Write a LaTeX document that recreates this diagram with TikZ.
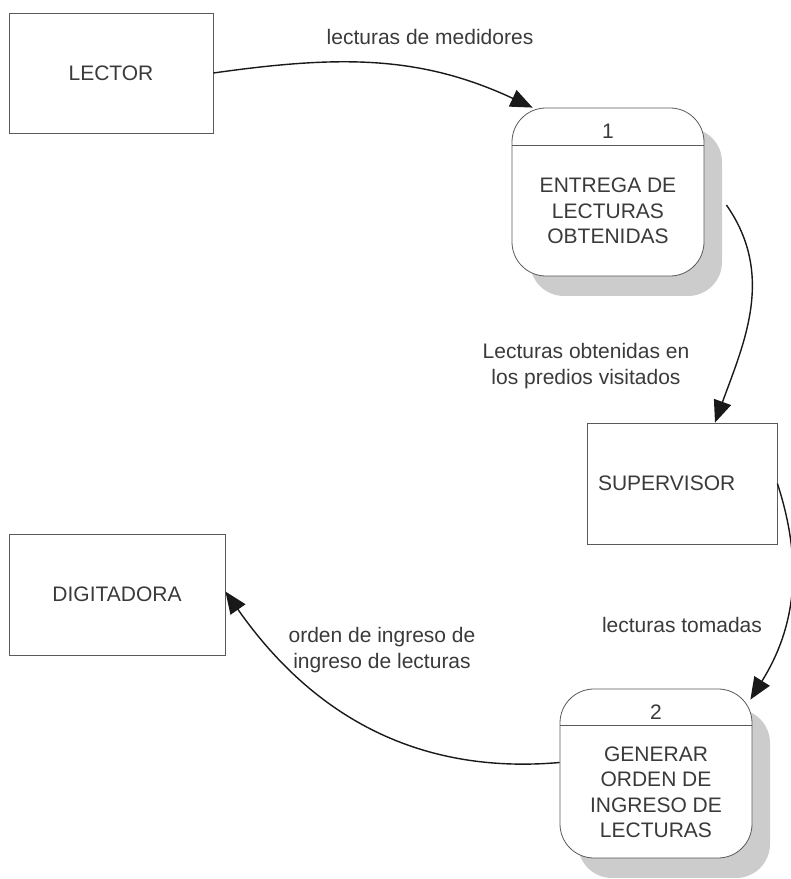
\documentclass[tikz,border=0pt]{standalone}
\usepackage{fontspec}
\setmainfont{Liberation Sans}
\usetikzlibrary{arrows.meta}
\usetikzlibrary{shadows}

\definecolor{inkgray}{HTML}{3A3A3A}
\definecolor{linegray}{HTML}{5A5A5A}

\tikzset{
	entity/.style={draw=linegray, line width=0.8pt, minimum height=121pt, inner sep=0pt},
	process/.style={draw=linegray, line width=0.8pt, fill=white, rounded corners=34pt, minimum width=192pt, minimum height=168pt, drop shadow={shadow xshift=18pt, shadow yshift=-20pt, fill=gray!40, opacity=1}},
	flow/.style={draw=black!90, line width=1.4pt, -{Triangle[length=22pt,width=18pt]}}
}

\begin{document}
\begin{tikzpicture}[x=1pt,y=1pt, every node/.style={font=\fontsize{21}{25.5}\selectfont, text=inkgray}]
	\useasboundingbox (0,0) rectangle (791,879);

	\node[entity, minimum width=204pt, minimum height=120pt] (lector) at (111,806) {LECTOR};
	\node[entity, minimum width=216pt] (digitadora) at (117,284.5) {DIGITADORA};
	\node[entity, text width=168pt, inner xsep=11pt, align=left] (supervisor) at (682,395.5) {SUPERVISOR};

	\node[process] (p1) at (608,687) {};
	\draw[linegray, line width=0.8pt] ([yshift=-38]p1.north west) -- ([yshift=-38]p1.north east);
	\node (p1id) at ([yshift=-24]p1.north) {1};
	\node[align=center] (p1name) at ([yshift=-19]p1.center) {ENTREGA DE\\LECTURAS\\OBTENIDAS};

	\node[process, minimum height=169pt] (p2) at (656,105.5) {};
	\draw[linegray, line width=0.8pt] ([yshift=-37]p2.north west) -- ([yshift=-37]p2.north east);
	\node (p2id) at ([yshift=-24]p2.north) {2};
	\node[align=center] (p2name) at ([yshift=-19]p2.center) {GENERAR\\ORDEN DE\\INGRESO DE\\LECTURAS};

	\draw[flow] (lector.east) to[out=8, in=155] ([xshift=21]p1.north west);
	\draw[flow] ([shift={(22,-13)}]p1.east) to[out=-55, in=70] ([xshift=33]supervisor.north);
	\draw[flow] (supervisor.east) to[out=-72, in=58] ([shift={(-2,-11)}]p2.north east);
	\draw[flow] ([yshift=11]p2.west) to[out=185, in=-55] ([yshift=3]digitadora.east);

	\node (lbl1) at (430,842) {lecturas de medidores};
	\node[align=center] (lbl2) at (586,513) {Lecturas obtenidas en\\los predios visitados};
	\node (lbl3) at (682,254) {lecturas tomadas};
	\node[align=center] (lbl4) at (382,229) {orden de ingreso de\\ingreso de lecturas};
\end{tikzpicture}
\end{document}
